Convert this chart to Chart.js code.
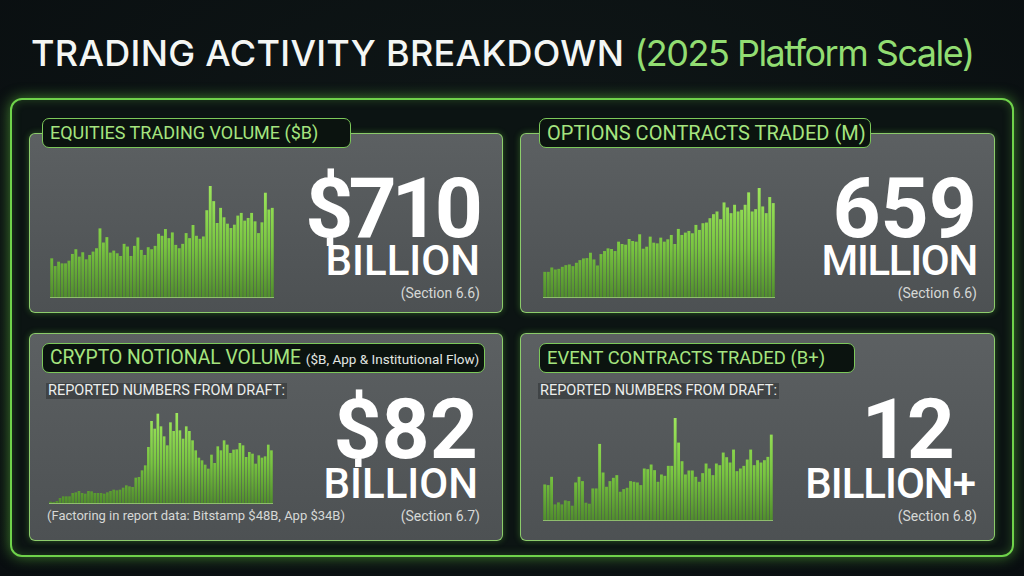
<!DOCTYPE html>
<html>
<head>
<meta charset="utf-8">
<script src="https://cdn.jsdelivr.net/npm/chart.js@4.4.1/dist/chart.umd.min.js"></script>
<style>
  html, body { margin: 0; padding: 0; }
  body { width: 1024px; height: 576px; overflow: hidden; background: radial-gradient(ellipse at 50% 40%, #101818 0%, #090e10 100%); font-family: "Roboto", "Inter", sans-serif; position: relative; }
  .abs { position: absolute; }
  #title { left: 31px; top: 31px; font-family: "Inter", sans-serif; font-size: 36px; font-weight: 500; color: #f4f6f4; white-space: nowrap; letter-spacing: 0.3px; line-height: 44px; }
  #title span { color: #92dd72; font-weight: 400; letter-spacing: -1.5px; }
  #frame { left: 10px; top: 98px; width: 1000px; height: 455px; border: 2px solid #6fd24a; border-radius: 12px; background: #0c1413; box-shadow: 0 0 14px rgba(110, 220, 70, 0.55), inset 0 0 10px rgba(110, 220, 70, 0.25); }
  .panel { border: 1.5px solid rgba(150, 225, 110, 0.85); border-radius: 6px; background: linear-gradient(180deg, #5c6062 0%, #4d5153 100%); box-shadow: 0 0 6px rgba(110, 220, 70, 0.35); }
  .pill { height: 28px; border: 1px solid #7cc85a; border-radius: 7px; background: #0b130f; color: #a5e47f; font-size: 18px; font-weight: 400; line-height: 28px; padding-left: 7px; white-space: nowrap; box-sizing: content-box; }
  .pill small { font-size: 13.5px; font-weight: 400; color: #e2e6e2; }
  .big { color: #ffffff; text-align: right; white-space: nowrap; }
  .num { font-family: "Roboto", sans-serif; font-size: 84px; font-weight: 700; letter-spacing: -3px; line-height: 0.75; }
  .unit { font-family: "Roboto", sans-serif; font-size: 42px; font-weight: 500; letter-spacing: 0px; line-height: 0.8; }
  .note { color: #d6d8d6; font-size: 14px; font-weight: 400; white-space: nowrap; line-height: 1; }
  .rep { color: #eceeec; font-size: 14.5px; white-space: nowrap; line-height: 16px; background: rgba(40, 44, 46, 0.5); padding: 0 2px; }
  .plot { border-bottom: 1px solid rgba(170, 235, 120, 0.7); }
</style>
</head>
<body>
<div id="title" class="abs">TRADING ACTIVITY BREAKDOWN <span>(2025 Platform Scale)</span></div>
<div id="frame" class="abs"></div>

<div class="abs panel" style="left:29px; top:133px; width:472px; height:178px;"></div>
<div class="abs panel" style="left:520px; top:133px; width:473px; height:178px;"></div>
<div class="abs panel" style="left:29px; top:333px; width:472px; height:206px;"></div>
<div class="abs panel" style="left:520px; top:333px; width:473px; height:206px;"></div>

<div class="abs pill" style="left:42px; top:118px; width:300px;">EQUITIES TRADING VOLUME ($B)</div>
<div class="abs pill" style="left:539px; top:118px; width:323px; font-size:20px;">OPTIONS CONTRACTS TRADED (M)</div>
<div class="abs pill" style="left:42px; top:343px; width:434px; font-size:19.3px;">CRYPTO NOTIONAL VOLUME <small>($B, App &amp; Institutional Flow)</small></div>
<div class="abs pill" style="left:539px; top:343px; width:307px; font-size:18.4px;">EVENT CONTRACTS TRADED (B+)</div>

<div class="abs rep" style="left:46px; top:383px;">REPORTED NUMBERS FROM DRAFT:</div>
<div class="abs rep" style="left:538px; top:383px;">REPORTED NUMBERS FROM DRAFT:</div>

<div class="abs plot" style="left:50px; top:186px; width:224px; height:111px;"><canvas id="c1" width="224" height="111"></canvas></div>
<div class="abs plot" style="left:543px; top:188px; width:232px; height:109px;"><canvas id="c2" width="232" height="109"></canvas></div>
<div class="abs plot" style="left:49px; top:413px; width:224px; height:90px;"><canvas id="c3" width="224" height="90"></canvas></div>
<div class="abs plot" style="left:543px; top:418px; width:230px; height:102px;"><canvas id="c4" width="230" height="102"></canvas></div>

<div class="abs big num" style="right:546px; top:177px; letter-spacing:-5px;">$710</div>
<div class="abs big unit" style="right:544px; top:244px;">BILLION</div>
<div class="abs note" style="right:544px; top:286px;">(Section 6.6)</div>

<div class="abs big num" style="right:47px; top:177px; letter-spacing:0px;">659</div>
<div class="abs big unit" style="right:47px; top:244px; letter-spacing:-1.3px;">MILLION</div>
<div class="abs note" style="right:47px; top:286px;">(Section 6.6)</div>

<div class="abs big num" style="right:546px; top:398px; letter-spacing:0px;">$82</div>
<div class="abs big unit" style="right:546px; top:467px;">BILLION</div>
<div class="abs note" style="right:544px; top:509px;">(Section 6.7)</div>
<div class="abs note" style="left:47px; top:509px; font-size:13px;">(Factoring in report data: Bitstamp $48B, App $34B)</div>

<div class="abs big num" style="right:72px; top:398px;">12</div>
<div class="abs big unit" style="right:49px; top:467px; letter-spacing:-1px;">BILLION+</div>
<div class="abs note" style="right:47px; top:509px;">(Section 6.8)</div>

<script>
// bar heights (relative units per panel)
const equitiesVolume = [115, 92, 105, 100, 100, 108, 128, 142, 120, 133, 112, 125, 135, 145, 204, 162, 178, 132, 138, 130, 122, 158, 150, 122, 152, 177, 140, 125, 148, 142, 152, 188, 182, 202, 175, 192, 155, 145, 158, 190, 175, 214, 182, 173, 180, 258, 330, 285, 220, 265, 237, 218, 205, 215, 242, 250, 227, 235, 250, 225, 190, 222, 310, 260, 265];
const optionsContracts = [75, 75, 88, 82, 84, 90, 95, 97, 92, 102, 110, 115, 116, 132, 112, 94, 128, 137, 145, 143, 137, 165, 158, 156, 173, 167, 165, 187, 144, 150, 180, 162, 160, 177, 165, 172, 185, 158, 203, 185, 192, 197, 190, 215, 200, 220, 222, 235, 247, 255, 232, 282, 267, 250, 275, 255, 260, 275, 312, 255, 262, 325, 270, 250, 298, 280];
const cryptoNotional = [4, 3, 6, 15, 20, 20, 20, 30, 32, 36, 30, 28, 36, 35, 30, 30, 30, 28, 32, 36, 40, 38, 40, 46, 53, 50, 48, 76, 78, 98, 113, 168, 246, 223, 268, 230, 200, 173, 242, 216, 270, 218, 193, 230, 216, 188, 158, 136, 128, 115, 103, 145, 120, 170, 158, 188, 175, 150, 160, 161, 180, 173, 138, 153, 148, 118, 143, 136, 140, 175, 158];
const eventContracts = [107, 105, 130, 47, 53, 47, 59, 57, 43, 113, 130, 117, 52, 49, 95, 95, 229, 143, 100, 117, 127, 135, 85, 93, 97, 117, 115, 113, 105, 155, 153, 167, 150, 115, 137, 133, 163, 163, 307, 233, 177, 137, 149, 149, 130, 115, 141, 170, 155, 135, 170, 165, 203, 189, 173, 212, 147, 155, 163, 182, 212, 165, 180, 173, 180, 190, 257];

const barFill = (context) => {
    const { chart } = context;
    const area = chart.chartArea;
    if (!area) return "#7fce45";
    const g = chart.ctx.createLinearGradient(0, area.bottom, 0, area.top);
    g.addColorStop(0, "#508e2c");
    g.addColorStop(0.45, "#78c540");
    g.addColorStop(1, "#9de65c");
    return g;
};

const drawBars = (id, values) => {
    const ctx = document.getElementById(id).getContext("2d");
    return new Chart(ctx, {
        type: "bar",
        data: {
            labels: values.map((v, i) => i + 1),
            datasets: [{
                data: values,
                backgroundColor: barFill,
                borderWidth: 0,
                barPercentage: 0.84,
                categoryPercentage: 1.0,
            }],
        },
        options: {
            responsive: false,
            animation: false,
            layout: { padding: 0 },
            plugins: { legend: { display: false }, tooltip: { enabled: false } },
            scales: {
                x: { display: false },
                y: { display: false, min: 0, max: Math.max(...values) },
            },
        },
    });
};

drawBars("c1", equitiesVolume);
drawBars("c2", optionsContracts);
drawBars("c3", cryptoNotional);
drawBars("c4", eventContracts);
</script>
</body>
</html>
